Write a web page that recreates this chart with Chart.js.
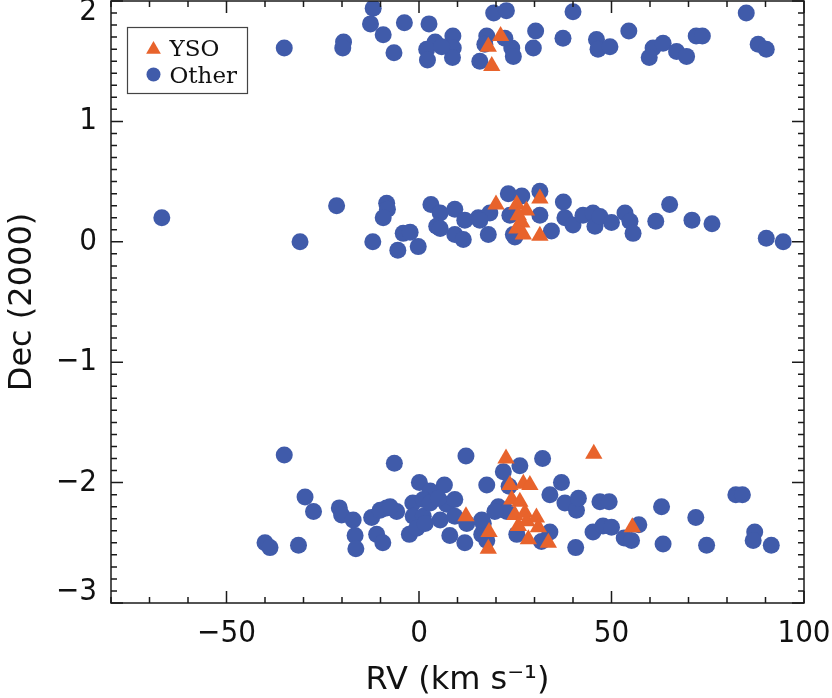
<!DOCTYPE html>
<html>
<head>
<meta charset="utf-8">
<script src="https://cdn.jsdelivr.net/npm/chart.js@4.4.1/dist/chart.umd.min.js"></script>
<style>
  html, body { margin: 0; padding: 0; background: #fff; overflow: hidden; }
  /* Chart.js keeps room for the marker overflow above the plot; pull it back up */
  canvas { display: block; margin-top: -9px; }
</style>
</head>
<body>
<canvas id="decChart" width="832" height="707"></canvas>
<script>
// [RV (km/s), Dec (deg)], grouped by field
const topOther = [
  [-35.0, 1.61], [-19.6, 1.66], [-19.8, 1.61], [-11.9, 1.94], [-12.6, 1.81], [-9.3, 1.72],
  [-3.8, 1.82], [-6.5, 1.57], [2.6, 1.81], [4.2, 1.66], [2.0, 1.60], [2.2, 1.51],
  [8.8, 1.71], [8.9, 1.61], [8.7, 1.53], [5.9, 1.62], [19.4, 1.90], [22.7, 1.92],
  [17.6, 1.71], [17.1, 1.64], [15.8, 1.50], [24.1, 1.61], [24.5, 1.54], [22.3, 1.69],
  [30.3, 1.75], [29.7, 1.61], [37.4, 1.69], [40.0, 1.91], [46.1, 1.68], [46.5, 1.60],
  [49.6, 1.62], [54.5, 1.75], [60.8, 1.61], [59.8, 1.53], [63.4, 1.65], [66.9, 1.58],
  [69.5, 1.54], [72.0, 1.71], [73.6, 1.71], [85.0, 1.90], [88.1, 1.64], [90.2, 1.60]
]
const midOther = [
  [-66.8, 0.20], [-30.9, 0.00], [-21.4, 0.30], [-8.4, 0.32], [-8.2, 0.27], [-9.3, 0.20],
  [-12.0, 0.00], [-4.1, 0.07], [-2.3, 0.08], [-5.5, -0.07], [-0.2, -0.04], [3.1, 0.31],
  [5.5, 0.24], [4.6, 0.13], [9.3, 0.27], [9.3, 0.06], [11.9, 0.18], [11.5, 0.02],
  [15.4, 0.20], [18.4, 0.24], [18.0, 0.06], [23.2, 0.40], [26.7, 0.38], [31.4, 0.42],
  [31.4, 0.22], [23.6, 0.22], [24.5, 0.06], [34.4, 0.09], [37.5, 0.33], [37.9, 0.20],
  [5.5, 0.11], [15.8, 0.18], [24.9, 0.04], [40.0, 0.14], [42.6, 0.22], [45.2, 0.24],
  [45.7, 0.13], [47.0, 0.21], [50.0, 0.16], [53.5, 0.24], [54.8, 0.17], [55.6, 0.07],
  [61.5, 0.17], [65.1, 0.31], [70.9, 0.18], [76.1, 0.15], [90.2, 0.03], [94.6, 0.00]
]
const lowOther = [
  [-35.0, -1.77], [-29.6, -2.12], [-27.4, -2.24], [-40.0, -2.50], [-38.7, -2.54], [-31.3, -2.52],
  [-20.7, -2.21], [-20.1, -2.27], [-17.1, -2.31], [-16.6, -2.44], [-16.4, -2.55], [-6.4, -1.84],
  [-12.3, -2.29], [-11.0, -2.43], [-9.4, -2.50], [-8.4, -2.21], [-5.8, -2.24], [0.1, -2.00],
  [2.9, -2.07], [6.6, -2.02], [-1.6, -2.17], [1.1, -2.14], [-1.5, -2.28], [1.1, -2.28],
  [-2.5, -2.43], [-0.6, -2.38], [5.5, -2.31], [7.2, -2.18], [9.3, -2.14], [8.0, -2.44],
  [12.2, -1.78], [11.9, -2.50], [17.6, -2.02], [32.1, -1.80], [-10.1, -2.23], [-7.5, -2.20],
  [2.9, -2.17], [1.6, -2.34], [5.0, -2.13], [9.3, -2.28], [12.4, -2.34], [16.7, -2.34],
  [16.3, -2.43], [20.6, -2.20], [21.9, -1.91], [26.2, -1.86], [23.4, -2.03], [34.0, -2.10],
  [37.0, -2.00], [37.9, -2.17], [40.9, -2.23], [25.4, -2.43], [31.8, -2.49], [34.0, -2.41],
  [40.7, -2.54], [22.8, -2.24], [41.4, -2.13], [47.0, -2.16], [49.4, -2.16], [45.2, -2.41],
  [47.8, -2.36], [50.0, -2.37], [53.3, -2.46], [55.2, -2.48], [57.1, -2.35], [63.0, -2.20],
  [63.4, -2.51], [71.9, -2.29], [74.7, -2.52], [82.3, -2.10], [84.0, -2.10], [87.2, -2.41],
  [86.8, -2.48], [91.5, -2.52], [17.6, -2.48], [19.7, -2.24], [16.3, -2.31]
]
const topYSO = [[21.2, 1.71], [18.0, 1.62], [18.9, 1.46]]
const midYSO = [
  [20.0, 0.31], [25.4, 0.31], [31.4, 0.36], [27.9, 0.26], [26.7, 0.16],
  [25.4, 0.11], [27.1, 0.06], [31.4, 0.05], [25.8, 0.22]
]
const lowYSO = [
  [22.6, -1.80], [45.4, -1.76], [12.2, -2.28], [18.2, -2.41], [18.0, -2.55], [23.6, -2.02],
  [27.1, -2.01], [28.8, -2.02], [24.1, -2.14], [26.2, -2.16], [24.9, -2.27], [27.5, -2.25],
  [28.0, -2.32], [30.5, -2.29], [31.0, -2.37], [28.4, -2.47], [33.6, -2.50], [25.8, -2.36],
  [55.4, -2.37]
]
const xTickValues = [-50, 0, 50, 100]
const yTickValues = [-3, -2, -1, 0, 1, 2]
const seriesNames = ['YSO', 'Other']

const xMin = -80
const xMax = 100
const yMin = -3
const yMax = 2

const blue = 'rgb(64, 91, 170)'
const orange = 'rgb(232, 99, 44)'
const labelFont = '"DejaVu Sans Condensed", "DejaVu Sans", sans-serif'
const titleFont = '"DejaVu Sans", sans-serif'

const toXY = list => list.map(p => ({ x: p[0], y: p[1] }))
const minusSign = v => String(v).replace('-', '\u2212')

// end labels of the y axis sit inside the frame, like the original plot
const yLabel = v => {
  if (v === yMax) return ['', minusSign(v)]
  if (v === yMin) return [minusSign(v), '']
  return minusSign(v)
}

// frame with inward ticks on all four sides, plus the boxed legend
const frameAndLegend = {
  id: 'frameAndLegend',
  afterDatasetsDraw (chart) {
    const { ctx, chartArea: a, scales: { x, y } } = chart
    ctx.save()
    ctx.strokeStyle = '#1a1a1a'
    ctx.lineWidth = 1.5
    ctx.strokeRect(a.left, a.top, a.right - a.left, a.bottom - a.top)

    ctx.beginPath()
    for (let v = xMin; v <= xMax; v += 10) {
      const px = x.getPixelForValue(v)
      const len = v % 50 === 0 ? 12 : 6
      ctx.moveTo(px, a.bottom); ctx.lineTo(px, a.bottom - len)
      ctx.moveTo(px, a.top); ctx.lineTo(px, a.top + len)
    }
    for (let i = yMin * 10; i <= yMax * 10; i++) {
      const py = y.getPixelForValue(i / 10)
      const len = i % 10 === 0 ? 12 : 6
      ctx.moveTo(a.left, py); ctx.lineTo(a.left + len, py)
      ctx.moveTo(a.right, py); ctx.lineTo(a.right - len, py)
    }
    ctx.stroke()

    // legend box
    const bx = a.left + 16.5
    const by = a.top + 26.5
    ctx.lineWidth = 1.2
    ctx.strokeStyle = '#444'
    ctx.strokeRect(bx, by, 120, 66)

    const mx = bx + 26
    ctx.fillStyle = orange
    ctx.beginPath()
    const r = 8.5
    const ty = by + 22
    ctx.moveTo(mx, ty - r)
    ctx.lineTo(mx + r * Math.sin(Math.PI * 2 / 3), ty - r * Math.cos(Math.PI * 2 / 3))
    ctx.lineTo(mx + r * Math.sin(Math.PI * 4 / 3), ty - r * Math.cos(Math.PI * 4 / 3))
    ctx.closePath()
    ctx.fill()

    ctx.fillStyle = blue
    ctx.beginPath()
    ctx.arc(mx, by + 47, 7, 0, Math.PI * 2)
    ctx.fill()

    ctx.fillStyle = '#111'
    ctx.font = '23px "DejaVu Serif", serif'
    ctx.textBaseline = 'alphabetic'
    ctx.textAlign = 'left'
    ctx.fillText(seriesNames[0], bx + 42, by + 28)
    ctx.fillText(seriesNames[1], bx + 42, by + 55)
    ctx.restore()
  }
}

const chart = new Chart(document.getElementById('decChart').getContext('2d'), {
  type: 'scatter',
  data: {
    datasets: [
      {
        label: seriesNames[0],
        data: toXY(topYSO.concat(midYSO, lowYSO)),
        pointStyle: 'triangle',
        pointRadius: 10,
        backgroundColor: orange,
        borderWidth: 0
      },
      {
        label: seriesNames[1],
        data: toXY(topOther.concat(midOther, lowOther)),
        pointStyle: 'circle',
        pointRadius: 8.5,
        backgroundColor: blue,
        borderWidth: 0
      }
    ]
  },
  options: {
    responsive: false,
    animation: false,
    layout: { padding: { top: 0, right: 28, bottom: 0, left: 0 } },
    plugins: {
      legend: { display: false },
      tooltip: { enabled: false }
    },
    scales: {
      x: {
        type: 'linear',
        position: 'bottom',
        min: xMin,
        max: xMax,
        grid: { display: false, drawTicks: false },
        border: { display: false },
        afterBuildTicks: scale => { scale.ticks = xTickValues.map(v => ({ value: v })) },
        afterFit: scale => {
          scale.height = 95
          scale.paddingLeft = 0
          scale.paddingRight = 0
        },
        ticks: {
          color: '#111',
          padding: 12,
          maxRotation: 0,
          font: { family: labelFont, size: 31 },
          callback: v => minusSign(v)
        },
        title: {
          display: true,
          text: 'RV (km s\u207B\u00B9)',
          color: '#111',
          font: { family: titleFont, size: 32 },
          padding: { top: 0, bottom: -2 }
        }
      },
      y: {
        type: 'linear',
        position: 'left',
        min: yMin,
        max: yMax,
        grid: { display: false, drawTicks: false },
        border: { display: false },
        afterBuildTicks: scale => { scale.ticks = yTickValues.map(v => ({ value: v })) },
        afterFit: scale => {
          scale.width = 111
          scale.paddingTop = 0
          scale.paddingBottom = 0
        },
        ticks: {
          color: '#111',
          padding: 14,
          font: { family: labelFont, size: 31, lineHeight: 0.7 },
          callback: v => yLabel(v)
        },
        title: {
          display: true,
          text: 'Dec (2000)',
          color: '#111',
          font: { family: titleFont, size: 32 },
          padding: { top: 3, bottom: 0 }
        }
      }
    }
  },
  plugins: [frameAndLegend]
})
</script>
</body>
</html>
